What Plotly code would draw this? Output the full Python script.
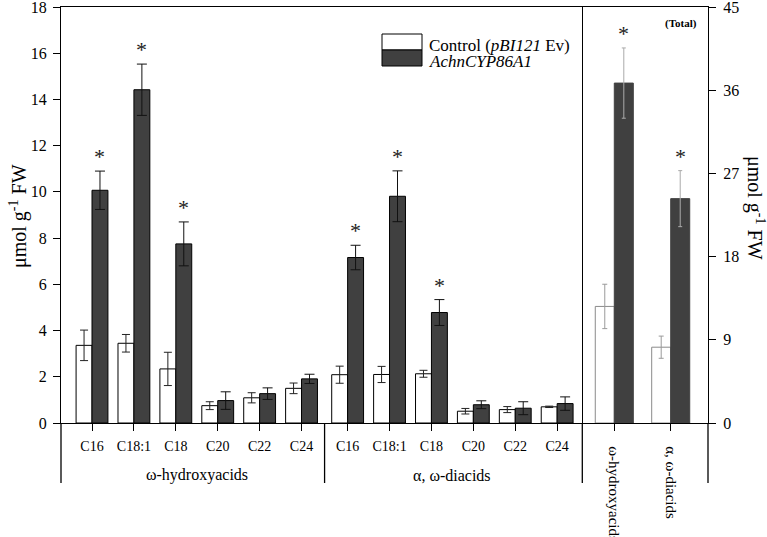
import plotly.graph_objects as go

# ---------------- data ----------------
groups = ["ω-hydroxyacids", "α, ω-diacids"]
chains = ["C16", "C18:1", "C18", "C20", "C22", "C24"]

hydroxy_control = [3.36, 3.45, 2.34, 0.75, 1.09, 1.50]
hydroxy_control_err = [0.66, 0.38, 0.72, 0.17, 0.22, 0.23]
hydroxy_cyp = [10.07, 14.42, 7.75, 0.97, 1.27, 1.91]
hydroxy_cyp_err = [0.83, 1.11, 0.95, 0.38, 0.25, 0.20]
hydroxy_sig = [True, True, True, False, False, False]

diacid_control = [2.09, 2.10, 2.13, 0.51, 0.58, 0.70]
diacid_control_err = [0.37, 0.35, 0.15, 0.12, 0.13, 0.03]
diacid_cyp = [7.16, 9.81, 4.78, 0.79, 0.64, 0.84]
diacid_cyp_err = [0.53, 1.10, 0.56, 0.17, 0.28, 0.29]
diacid_sig = [True, True, True, False, False, False]

total_labels = ["ω-hydroxyacids", "α, ω-diacids"]
total_control = [12.61, 8.20]
total_control_err = [2.40, 1.20]
total_cyp = [36.77, 24.27]
total_cyp_err = [3.80, 3.03]
total_sig = [True, True]

series_names = ["Control (<i>pBI121</i> Ev)", "<i>AchnCYP86A1</i>"]
left_title = "μmol g<sup>-1</sup> FW"
right_title = "μmol g<sup>-1</sup> FW"
total_tag = "<b>(Total)</b>"

# ---------------- layout helpers ----------------
W, H = 767, 537
PL, PR, PT, PB = 61, 708, 7, 423
FONT = "Liberation Serif, Times New Roman, serif"
DARK = "#404040"
GAP = 0.1
XD = (582.3 - PL) / (PR - PL)
BW_L = 0.38
BW_R = 0.337


def px_x(px):
    return (px - PL) / (PR - PL)


def px_y(py):
    return (PB - py) / (PB - PT)


n = len(chains)
x_pos = [g * (n + GAP) + i for g in range(len(groups)) for i in range(n)]
control_all = hydroxy_control + diacid_control
control_err_all = hydroxy_control_err + diacid_control_err
cyp_all = hydroxy_cyp + diacid_cyp
cyp_err_all = hydroxy_cyp_err + diacid_cyp_err
sig_all = hydroxy_sig + diacid_sig

fig = go.Figure()

fig.add_trace(go.Bar(
    x=x_pos, y=control_all, width=BW_L, offset=-BW_L, name=series_names[0],
    marker=dict(color="white", line=dict(color="black", width=1)),
    error_y=dict(type="data", array=control_err_all, color="#222", thickness=1, width=4),
    xaxis="x", yaxis="y", showlegend=False))
fig.add_trace(go.Bar(
    x=x_pos, y=cyp_all, width=BW_L, offset=0, name=series_names[1],
    marker=dict(color=DARK, line=dict(color="black", width=1)),
    error_y=dict(type="data", array=cyp_err_all, color="#111", thickness=1, width=5),
    xaxis="x", yaxis="y", showlegend=False))

fig.add_trace(go.Bar(
    x=total_labels, y=total_control, width=BW_R, offset=-BW_R, name=series_names[0],
    marker=dict(color="white", line=dict(color="#8a8a8a", width=1)),
    error_y=dict(type="data", array=total_control_err, color="#9a9a9a", thickness=1, width=2.5),
    xaxis="x2", yaxis="y2", showlegend=False))
fig.add_trace(go.Bar(
    x=total_labels, y=total_cyp, width=BW_R, offset=0, name=series_names[1],
    marker=dict(color=DARK, line=dict(color=DARK, width=1)),
    error_y=dict(type="data", array=total_cyp_err, color="#aaaaaa", thickness=1, width=2),
    xaxis="x2", yaxis="y2", showlegend=False))

annotations = []
for xp, v, e, s in zip(x_pos, cyp_all, cyp_err_all, sig_all):
    if s:
        annotations.append(dict(x=xp + BW_L / 2, y=v + e, xref="x", yref="y", text="*",
                                showarrow=False, yanchor="bottom", yshift=0,
                                font=dict(family=FONT, size=22, color="#222")))
for i, (v, e, s) in enumerate(zip(total_cyp, total_cyp_err, total_sig)):
    if s:
        annotations.append(dict(x=i + BW_R / 2, y=v + e, xref="x2", yref="y2", text="*",
                                showarrow=False, yanchor="bottom", yshift=0,
                                font=dict(family=FONT, size=22, color="#222")))

# group labels under the chain ticks
for g, name in enumerate(groups):
    centre = g * (n + GAP) + (n - 1) / 2
    annotations.append(dict(x=centre, y=px_y(475), xref="x", yref="paper", text=name,
                            showarrow=False, yanchor="middle",
                            font=dict(family=FONT, size=16, color="black")))

annotations.append(dict(x=px_x(18), y=px_y(216), xref="paper", yref="paper", text=left_title,
                        textangle=-90, showarrow=False, xanchor="center", yanchor="middle",
                        font=dict(family=FONT, size=20, color="black")))
annotations.append(dict(x=px_x(755), y=px_y(208), xref="paper", yref="paper", text=right_title,
                        textangle=90, showarrow=False, xanchor="center", yanchor="middle",
                        font=dict(family=FONT, size=20, color="black")))
annotations.append(dict(x=px_x(699), y=px_y(24), xref="paper", yref="paper", text=total_tag,
                        showarrow=False, xanchor="right", yanchor="middle",
                        font=dict(family=FONT, size=11, color="black")))

# manual legend
annotations.append(dict(x=px_x(427), y=px_y(45), xref="paper", yref="paper", text=series_names[0],
                        showarrow=False, xanchor="left", yanchor="middle",
                        font=dict(family=FONT, size=17, color="black")))
annotations.append(dict(x=px_x(427), y=px_y(62), xref="paper", yref="paper", text=series_names[1],
                        showarrow=False, xanchor="left", yanchor="middle",
                        font=dict(family=FONT, size=17, color="black")))

LW = 1.3
shapes = [
    dict(type="rect", xref="paper", yref="paper", x0=px_x(382), x1=px_x(422),
         y0=px_y(50), y1=px_y(34), fillcolor="white", line=dict(color="black", width=1)),
    dict(type="rect", xref="paper", yref="paper", x0=px_x(382), x1=px_x(422),
         y0=px_y(66), y1=px_y(50), fillcolor=DARK, line=dict(color="black", width=1)),
    # extended vertical lines through the label area
    dict(type="line", xref="paper", yref="paper", x0=0, x1=0, y0=px_y(483), y1=0,
         line=dict(color="black", width=LW)),
    dict(type="line", xref="x", yref="paper", x0=n - 0.5 + GAP / 2, x1=n - 0.5 + GAP / 2,
         y0=px_y(483), y1=0, line=dict(color="black", width=LW)),
    dict(type="line", xref="paper", yref="paper", x0=XD, x1=XD, y0=px_y(483), y1=0,
         line=dict(color="black", width=LW)),
    dict(type="line", xref="paper", yref="paper", x0=1, x1=1, y0=px_y(483), y1=0,
         line=dict(color="black", width=LW)),
]

axis_common = dict(showline=True, linecolor="black", linewidth=LW, showgrid=False,
                   zeroline=False, ticks="outside", ticklen=7, tickwidth=LW, tickcolor="black",
                   automargin=False, ticklabeloverflow="allow")

fig.update_layout(
    width=W, height=H,
    margin=dict(l=PL, r=W - PR, t=PT, b=H - PB, pad=0, autoexpand=False),
    paper_bgcolor="white", plot_bgcolor="white",
    barmode="overlay",
    font=dict(family=FONT, color="black"),
    xaxis=dict(domain=[0, XD], range=[-0.74, 11.70], tickvals=x_pos, ticktext=chains * len(groups),
               tickfont=dict(family=FONT, size=14), mirror=True, anchor="y",
               ticklabelstandoff=3, **axis_common),
    xaxis2=dict(domain=[XD, 1], type="category", range=[-0.567, 1.661], tickangle=90,
                tickfont=dict(family=FONT, size=15), mirror=True, anchor="y2",
                ticklabelstandoff=12, **axis_common),
    yaxis=dict(domain=[0, 1], range=[0, 18], dtick=2, anchor="x", mirror=True,
               tickfont=dict(family=FONT, size=16), ticklabelstandoff=3, **axis_common),
    yaxis2=dict(domain=[0, 1], range=[0, 45], dtick=9, anchor="x2", side="right",
                tickfont=dict(family=FONT, size=16), ticklabelstandoff=4, **axis_common),
    annotations=annotations,
    shapes=shapes,
    showlegend=False,
)

fig.write_html("out.html", post_script="document.body.style.margin='0px';",
               config={"displayModeBar": False})
